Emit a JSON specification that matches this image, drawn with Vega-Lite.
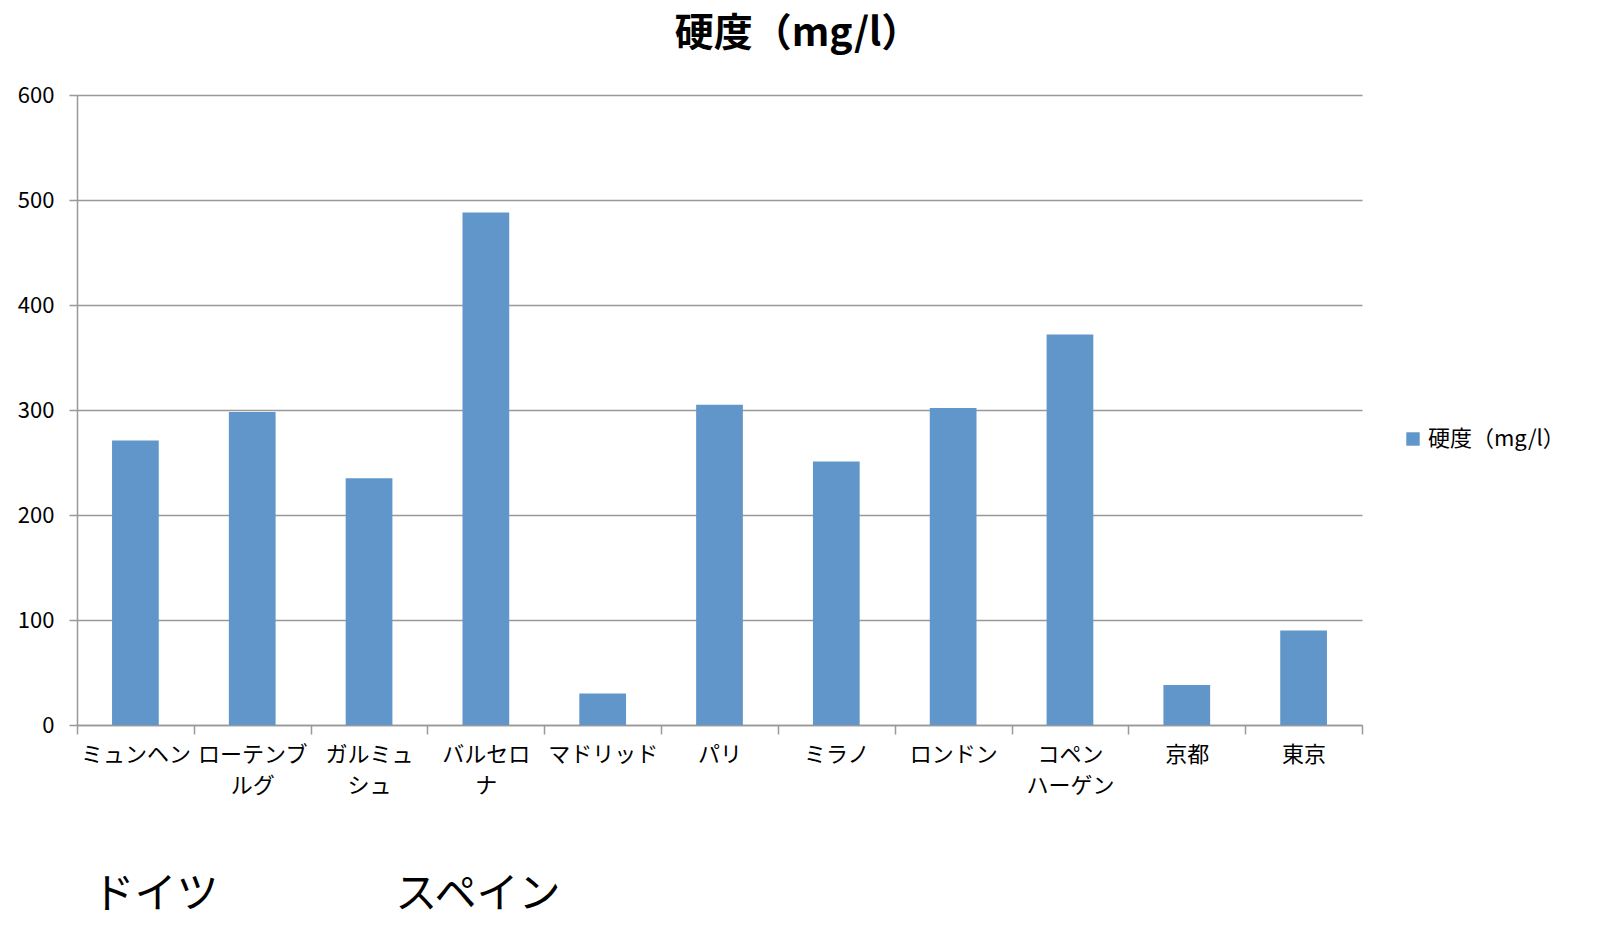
{
  "$schema": "https://vega.github.io/schema/vega-lite/v6.json",
  "autosize": {"type": "none"},
  "width": 1285,
  "height": 630,
  "padding": {"left": 77, "top": 95, "right": 238, "bottom": 212},
  "background": "white",
  "config": {
    "font": "Noto Sans CJK JP",
    "view": {"stroke": null}
  },
  "title": {
    "text": "硬度（mg/l）",
    "fontSize": 39,
    "fontWeight": "bold",
    "color": "#000000",
    "font": "Noto Sans CJK JP",
    "offset": 30,
    "dx": 78,
    "anchor": "middle"
  },
  "data": {
    "values": [
      {"city": "ミュンヘン", "hardness": 271},
      {"city": "ローテンブルグ", "hardness": 298},
      {"city": "ガルミュシュ", "hardness": 235},
      {"city": "バルセロナ", "hardness": 488},
      {"city": "マドリッド", "hardness": 30},
      {"city": "パリ", "hardness": 305},
      {"city": "ミラノ", "hardness": 251},
      {"city": "ロンドン", "hardness": 302},
      {"city": "コペンハーゲン", "hardness": 372},
      {"city": "京都", "hardness": 38},
      {"city": "東京", "hardness": 90}
    ]
  },
  "encoding": {
    "x": {
      "field": "city",
      "type": "nominal",
      "sort": null,
      "scale": {"paddingInner": 0, "paddingOuter": 0},
      "axis": {
        "title": null,
        "labelAngle": 0,
        "labelFontSize": 22,
        "labelColor": "#000000",
        "labelLineHeight": 31,
        "labelPadding": 10,
        "labelBaseline": "top",
        "tickBand": "extent",
        "tickSize": 9,
        "tickColor": "#999999",
        "tickWidth": 1.5,
        "domainColor": "#999999",
        "domainWidth": 1.5,
        "labelExpr": "datum.value == 'ローテンブルグ' ? ['ローテンブ','ルグ'] : datum.value == 'ガルミュシュ' ? ['ガルミュ','シュ'] : datum.value == 'バルセロナ' ? ['バルセロ','ナ'] : datum.value == 'コペンハーゲン' ? ['コペン','ハーゲン'] : datum.value"
      }
    }
  },
  "layer": [
    {
      "mark": {"type": "bar", "color": "#6096CA", "width": {"band": 0.4}},
      "encoding": {
        "y": {
          "field": "hardness",
          "type": "quantitative",
          "scale": {"domain": [0, 600], "nice": false},
          "axis": {
            "title": null,
            "values": [0, 100, 200, 300, 400, 500, 600],
            "labelFontSize": 22,
            "labelColor": "#000000",
            "labelPadding": 15,
            "tickSize": 8,
            "tickColor": "#999999",
            "tickWidth": 1.5,
            "domainColor": "#999999",
            "domainWidth": 1.5,
            "gridColor": "#999999",
            "gridWidth": 1.5
          }
        },
        "color": {
          "datum": "硬度（mg/l）",
          "type": "nominal",
          "scale": {"range": ["#6096CA"]},
          "legend": {
            "title": null,
            "orient": "none",
            "legendX": 1325,
            "legendY": 333,
            "symbolType": "square",
            "symbolSize": 180,
            "symbolStrokeWidth": 0,
            "labelFontSize": 22,
            "labelColor": "#000000",
            "labelOffset": 4
          }
        }
      }
    },
    {
      "transform": [{"filter": "datum.city == 'ミュンヘン'"}],
      "mark": {"type": "text", "fontSize": 42, "color": "#000000", "dx": 20, "baseline": "middle", "align": "center"},
      "encoding": {
        "y": {"datum": -162, "type": "quantitative"},
        "text": {"value": "ドイツ"}
      }
    },
    {
      "transform": [{"filter": "datum.city == 'バルセロナ'"}],
      "mark": {"type": "text", "fontSize": 42, "color": "#000000", "dx": -8, "baseline": "middle", "align": "center"},
      "encoding": {
        "y": {"datum": -162, "type": "quantitative"},
        "text": {"value": "スペイン"}
      }
    }
  ]
}
